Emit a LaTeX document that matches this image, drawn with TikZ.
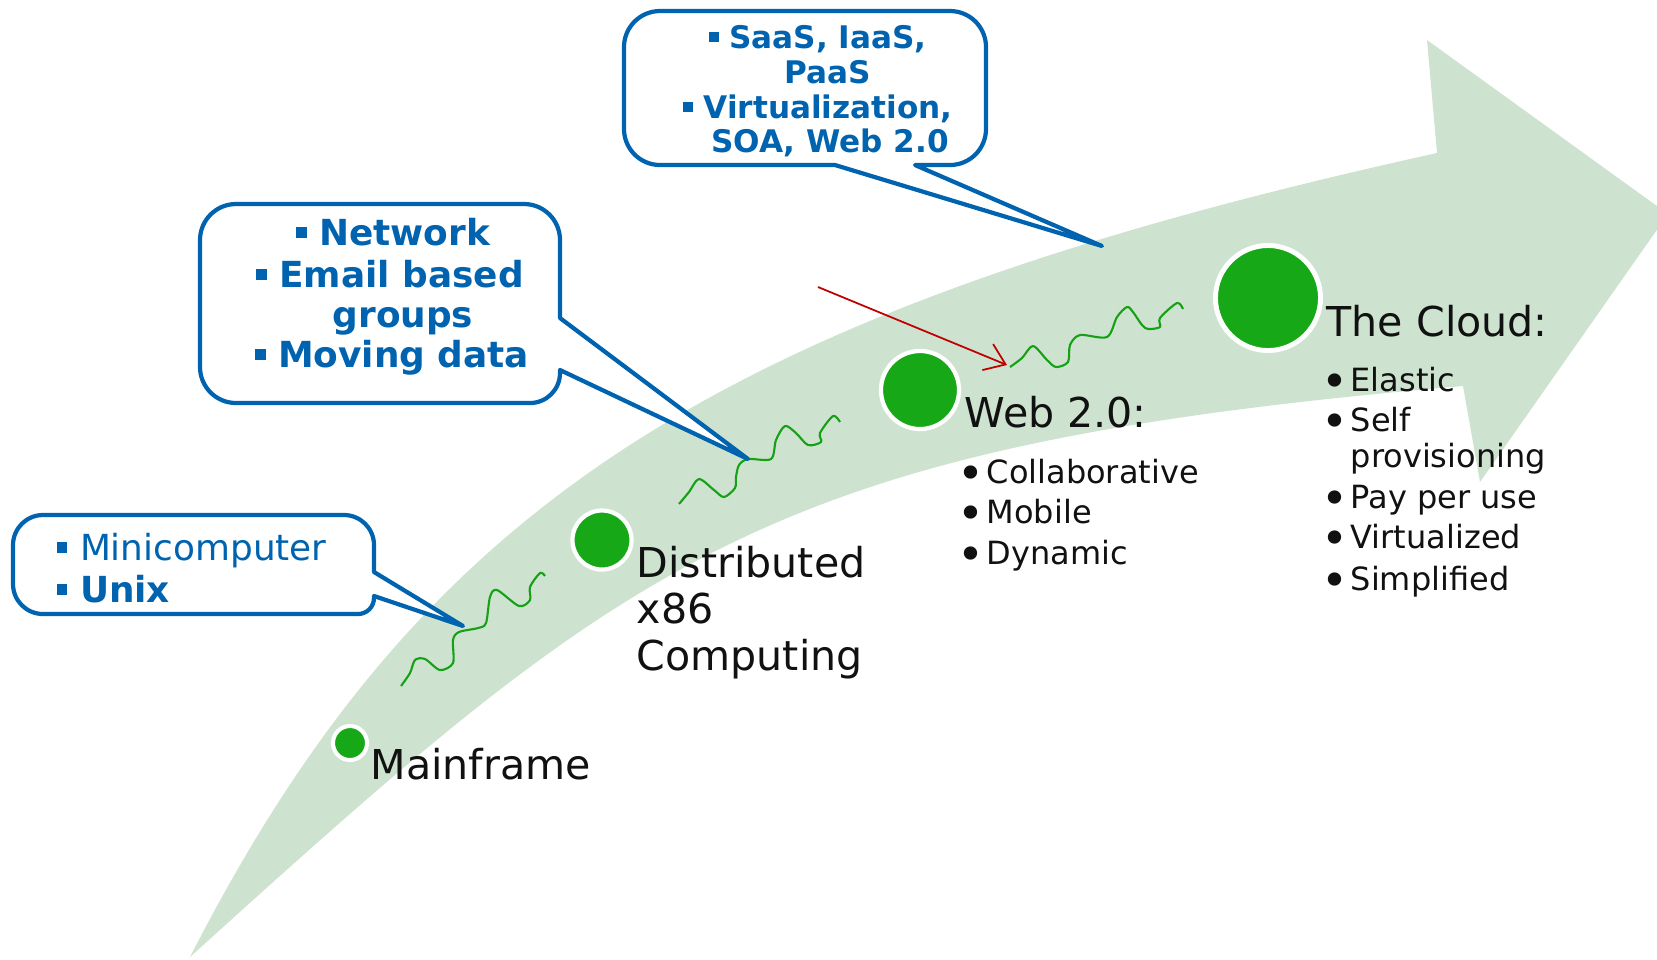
\documentclass[tikz,border=0pt]{standalone}
\usepackage{fontspec}
\usepackage{graphicx}
\setmainfont{DejaVu Sans}
\usetikzlibrary{arrows.meta}
\definecolor{band}{RGB}{206,227,207}
\definecolor{dgreen}{RGB}{22,168,22}
\definecolor{sqgreen}{RGB}{22,160,22}
\definecolor{cblue}{RGB}{0,99,175}
\definecolor{txt}{RGB}{17,17,17}
\definecolor{redarr}{RGB}{192,0,0}
\newcommand\sqb{\rule[0.2em]{0.3em}{0.3em}\hspace{0.35em}}
\newcommand\bdot{\makebox[0.5em][l]{\hspace{-3.8pt}\raisebox{-1.7pt}[0pt][0pt]{\fontsize{13pt}{13pt}\selectfont •}}}
\begin{document}
\begin{tikzpicture}[x=0.01cm,y=-0.01cm,
 dot/.style={circle,fill=dgreen,draw=white,inner sep=0pt},
 lbl/.style={anchor=base west,inner sep=0pt,text=txt,font=\fontsize{11.7pt}{14pt}\selectfont},
 sub/.style={anchor=base west,inner sep=0pt,text=txt,font=\fontsize{9.1pt}{11pt}\selectfont},
 callout/.style={draw=cblue,fill=white,line width=1.2pt,line join=round},
 cta/.style={anchor=base west,inner sep=0pt,text=cblue,font=\fontsize{10.2pt}{12pt}\selectfont},
 ctb/.style={anchor=base,inner sep=0pt,text=cblue,font=\fontsize{10.2pt}{12pt}\selectfont\bfseries},
 ctc/.style={anchor=base,inner sep=0pt,text=cblue,font=\fontsize{8.85pt}{10pt}\selectfont\bfseries},
 squig/.style={draw=sqgreen,line width=0.6pt,line join=round}]
\useasboundingbox (0,0) rectangle (1657,959);
\clip (0,0) rectangle (1657,959);
% big curved arrow
\fill[band] (190,957) .. controls (418,512) and (705,314) .. (1437,153)
 -- (1427,40) -- (1668,214) -- (1480,482) -- (1463,386)
 .. controls (766,445.5) and (634,555) .. (190,957) -- cycle;
% squiggles
\draw[squig] plot[smooth] coordinates {(401,686) (410,673) (415,660) (425,659) (440,670) (453,663) (453,640) (459,632) (478,628) (486,623) (490,597) (497,590) (519,606) (530,600) (530,587) (540,573) (545,576)};
\draw[squig] plot[smooth] coordinates {(679,504) (689,492) (699,479) (714,490) (724,497) (735,488) (736,477) (739,465) (748,459) (771,459) (776,440) (785,426) (796,433) (808,445) (821,442) (820,433) (833,416) (840,422)};
\draw[squig] plot[smooth] coordinates {(1010,367) (1022,358) (1033,346) (1047,360) (1056,367) (1068,362) (1070,345) (1080,335) (1107,337) (1117,317) (1127,307) (1133,312) (1142,325) (1148,329) (1160,327) (1160,318) (1177,303) (1183,309)};
% callouts
\filldraw[callout] (190,515) [rounded corners=0.3cm] -- (374,515) [sharp corners] -- (374,572) -- (463,626) -- (374,596) [rounded corners=0.16cm] -- (374,614) [rounded corners=0.3cm] -- (13,614) -- (13,515) -- cycle;
\filldraw[callout] (380,204) [rounded corners=0.36cm] -- (560,204) [sharp corners] -- (560,318) -- (748,459) -- (560,370) [rounded corners=0.3cm] -- (560,403) [rounded corners=0.36cm] -- (200,403) -- (200,204) -- cycle;
\filldraw[callout] (800,11) [rounded corners=0.36cm] -- (986,11) -- (986,165) [sharp corners] -- (915,165) -- (1102,246) -- (835,165) [rounded corners=0.36cm] -- (624,165) -- (624,11) -- cycle;
% callout texts
\node[cta] (u1) at (56,560) {\sqb Minicomputer};
\node[cta] (u2) at (56,602) {\sqb\textbf{Unix}};
\node[ctb] (n1) at (393,245) {\sqb Network};
\node[ctb] (n2) at (390,287) {\sqb Email based};
\node[ctb] (n3) at (403,327) {groups};
\node[ctb] (n4) at (392,367) {\sqb Moving data};
\node[ctc] (s1) at (818,48) {\sqb SaaS, IaaS,};
\node[ctc] (s2) at (828,83) {PaaS};
\node[ctc] (s3) at (818,118) {\sqb Virtualization,};
\node[ctc] (s4) at (830,152) {SOA, Web 2.0};
% milestone dots
\node[dot,minimum size=0.34cm,line width=1.15pt] (p1) at (350,743) {};
\node[dot,minimum size=0.59cm,line width=1.2pt] (p2) at (602,540) {};
\node[dot,minimum size=0.78cm,line width=1.2pt] (p3) at (920,390) {};
\node[dot,minimum size=1.05cm,line width=1.4pt] (p4) at (1268,298) {};
% labels
\node[lbl] (mf) at (370,779) {Mainframe};
\node[lbl] (d1) at (636,577) {Distributed};
\node[lbl] (d2) at (636,623) {x86};
\node[lbl] (d3) at (636,670) {Computing};
\node[lbl] (w0) at (964,427) {Web 2.0:};
\node[sub] (w1) at (970,483) {\bdot Collaborative};
\node[sub] (w2) at (970,523) {\bdot Mobile};
\node[sub] (w3) at (970,564) {\bdot Dynamic};
\node[lbl] (c0) at (1326,336) {The Cloud:};
\node[sub] (c1) at (1334,391) {\bdot Elastic};
\node[sub] (c2) at (1334,431) {\bdot Self};
\node[sub] (c3) at (1350,467) {provisioning};
\node[sub] (c4) at (1334,508) {\bdot Pay per use};
\node[sub] (c5) at (1334,548) {\bdot Virtualized};
\node[sub] (c6) at (1334,590) {\bdot Simplified};
% red arrow
\coordinate (rs) at (818,287);
\coordinate (rt) at (1007,365);
\draw[redarr,line width=0.5pt,-{Straight Barb[length=5.5pt,width=8pt]}] (rs) -- (rt);
\end{tikzpicture}
\end{document}
